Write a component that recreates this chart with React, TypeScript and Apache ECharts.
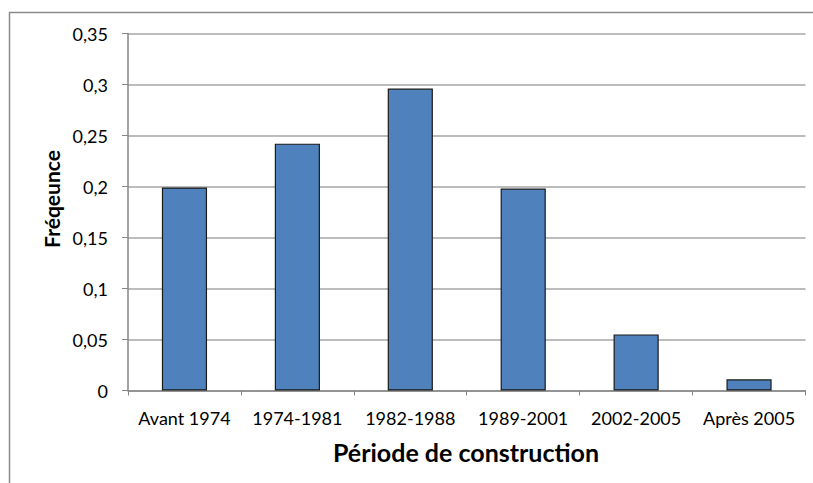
import React, { useEffect, useRef } from "react";
import * as echarts from "echarts";

const categories = ["Avant 1974", "1974-1981", "1982-1988", "1989-2001", "2002-2005", "Après 2005"];
const frequencies = [0.199, 0.242, 0.296, 0.198, 0.055, 0.011];
const yTicks = { min: 0, max: 0.35, interval: 0.05 };
const xTitle = "Période de construction";
const yTitle = "Fréqeunce";

const FONT = "Lato";

export default function App() {
  const ref = useRef<HTMLDivElement>(null);
  useEffect(() => {
    if (!ref.current) return;
    const chart = echarts.init(ref.current, undefined, { renderer: "svg" });
    chart.setOption({
      animation: false,
      backgroundColor: "#ffffff",
      textStyle: { fontFamily: FONT },
      grid: { left: 128, right: 7.5, top: 33.5, bottom: 92.5 },
      graphic: [
        {
          type: "rect",
          shape: { x: 9.5, y: 12.5, width: 900, height: 600 },
          style: { fill: "none", stroke: "#8a8a8a", lineWidth: 1.5 },
          silent: true,
          z: -1,
        },
        {
          type: "text",
          x: 51,
          y: 199,
          rotation: Math.PI / 2,
          style: {
            text: yTitle,
            font: `bold 21px ${FONT}`,
            fill: "#000",
            align: "center",
            verticalAlign: "middle",
          },
        },
        {
          type: "text",
          x: 466,
          y: 452,
          style: {
            text: xTitle,
            font: `bold 25px ${FONT}`,
            fill: "#000",
            align: "center",
            verticalAlign: "middle",
          },
        },
      ],
      xAxis: {
        type: "category",
        data: categories,
        axisLine: { lineStyle: { color: "#868686", width: 1.5 } },
        axisTick: { show: true, length: 5, lineStyle: { color: "#868686" } },
        axisLabel: { color: "#000", fontSize: 18, fontFamily: FONT, margin: 18, interval: 0 },
        splitLine: { show: false },
      },
      yAxis: {
        type: "value",
        min: yTicks.min,
        max: yTicks.max,
        interval: yTicks.interval,
        axisLine: { show: true, lineStyle: { color: "#868686", width: 1.5 } },
        axisTick: { show: true, length: 6, lineStyle: { color: "#868686" } },
        axisLabel: {
          color: "#000",
          fontSize: 18,
          fontFamily: FONT,
          margin: 20,
          formatter: (v: number) => String(+v.toFixed(2)).replace(".", ","),
        },
        splitLine: { show: true, lineStyle: { color: "#a6a6a6", width: 1.5 } },
      },
      series: [
        {
          type: "bar",
          data: frequencies,
          barWidth: "40%",
          itemStyle: { color: "#4f81bd", borderColor: "#1a1a1a", borderWidth: 1.2 },
        },
      ],
    });
    return () => chart.dispose();
  }, []);
  return (
    <div
      ref={ref}
      style={{ position: "fixed", left: 0, top: 0, width: 813, height: 483 }}
    />
  );
}
